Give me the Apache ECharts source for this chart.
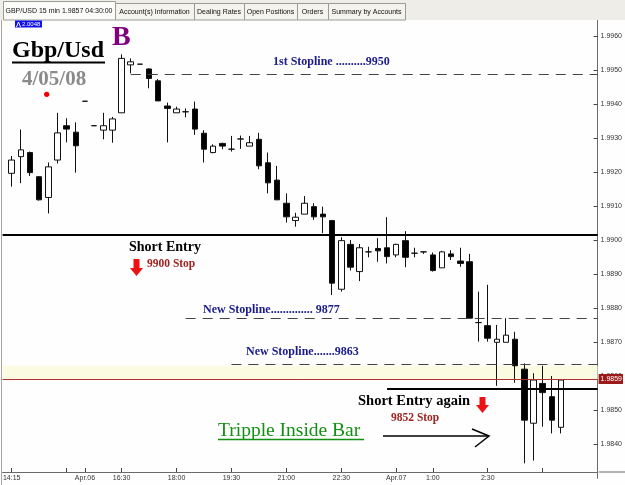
<!DOCTYPE html>
<html><head><meta charset="utf-8">
<script src="https://cdn.jsdelivr.net/npm/echarts@6/dist/echarts.min.js"></script>
<style>html,body{margin:0;padding:0;background:#fff;}#c{width:625px;height:485px;}</style>
</head><body><div id="c"></div>
<script>
// ---- data ----
const categories = ['',
 '14:15','14:30','14:45','15:00','15:15','15:30','15:45','16:00',
 'Apr.06','15:45','16:00','16:15','16:30','16:45','17:00','17:15','17:30','17:45',
 '18:00','18:15','18:30','18:45','19:00','19:15','19:30','19:45','20:00','20:15','20:30','20:45',
 '21:00','21:15','21:30','21:45','22:00','22:15','22:30','22:45','23:00','23:15','23:30','23:45',
 'Apr.07','0:15','0:30','0:45','1:00','1:15','1:30','1:45','2:00','2:15','2:30','2:45',
 '3:00','3:15','3:30','3:45','4:00','4:15','4:30','4:45','5:00','5:15','5:30'];
const opens  = [null,1.99197,1.99246,1.99258,1.99187,1.99126,1.99236,1.99337,1.99318,1.99409,1.99337,1.99324,1.99324,1.99375,1.99516,1.99518,1.99504,1.99469,1.99395,1.99375,1.99378,1.99386,1.99315,1.99258,1.99285,1.99268,1.99298,1.99277,1.99297,1.99228,1.99177,1.99109,1.99058,1.99077,1.99099,1.99077,1.99058,1.98856,1.98988,1.98908,1.98966,1.98976,1.98978,1.98957,1.98999,1.98962,1.98966,1.98957,1.98919,1.98960,1.98939,1.98937,1.98758,1.98749,1.98700,1.98700,1.98709,1.98621,1.98462,1.98579,1.98540,1.98450];
const closes = [null,1.99236,1.99266,1.99199,1.99119,1.99216,1.99316,1.99327,1.99278,1.99409,1.99337,1.99337,1.99357,1.99535,1.99525,1.99518,1.99476,1.99410,1.99388,1.99386,1.99378,1.99327,1.99268,1.99277,1.99277,1.99268,1.99298,1.99287,1.99219,1.99169,1.99119,1.99069,1.99068,1.99109,1.99069,1.99069,1.98874,1.98999,1.98921,1.98978,1.98966,1.98969,1.98952,1.98988,1.98950,1.98962,1.98966,1.98911,1.98966,1.98952,1.98932,1.98771,1.98758,1.98712,1.98709,1.98721,1.98631,1.98471,1.98589,1.98552,1.98471,1.98589];
const lows   = [null,1.99158,1.99168,1.99189,1.99117,1.99079,1.99226,1.99288,1.99199,1.99409,1.99337,1.99297,1.99287,1.99375,1.99491,1.99518,1.99447,1.99410,1.99288,1.99375,1.99362,1.99310,1.99229,1.99256,1.99268,1.99261,1.99269,1.99277,1.99209,1.99138,1.99119,1.99052,1.99040,1.99077,1.99060,1.99021,1.98839,1.98849,1.98911,1.98880,1.98950,1.98937,1.98932,1.98950,1.98921,1.98950,1.98960,1.98908,1.98919,1.98942,1.98922,1.98771,1.98702,1.98702,1.98572,1.98700,1.98581,1.98344,1.98352,1.98452,1.98432,1.98432];
const highs  = [null,1.99248,1.99326,1.99261,1.99189,1.99229,1.99375,1.99359,1.99347,1.99409,1.99337,1.99375,1.99363,1.99547,1.99535,1.99518,1.99506,1.99474,1.99405,1.99393,1.99388,1.99408,1.99324,1.99282,1.99287,1.99307,1.99308,1.99307,1.99316,1.99258,1.99219,1.99138,1.99081,1.99130,1.99109,1.99099,1.99060,1.99009,1.99001,1.98989,1.98981,1.99006,1.99068,1.98990,1.99027,1.98978,1.98966,1.98964,1.98969,1.98971,1.98978,1.98960,1.98849,1.98869,1.98751,1.98771,1.98731,1.98638,1.98609,1.98631,1.98601,1.98591];
const tickIdx  = [1,7,9,13,19,25,31,37,43,47,53,59];
const labelIdx = [1,9,13,19,25,31,37,43,47,53];
const yMin = 1.9830, yMax = 1.9970, yStep = 0.0010;
const shortEntry = 1.99016, shortEntryAgain = 1.98563;
const firstStop = 1.99488, newStop1 = 1.98771, newStop2 = 1.98636;
const lastPrice = 1.98592, bandTop = 1.98631;
const lastPriceLabel = '1.9859';
const firstStopStart = 14, newStop1Start = 20, newStop2Start = 25, againStart = 42;

const ohlc = opens.map((o, i) => o == null ? '-' : [o, closes[i], lows[i], highs[i]]);
const lastIdx = categories.length - 1;

const serif = 'Liberation Serif';
const sans = 'Liberation Sans';
function txt(text, x, y, size, color, bold, extra) {
  return Object.assign({type:'text', z:100, style:{text, x, y, fill:color,
    font:(bold?'bold ':'') + size + 'px "' + serif + '"', verticalAlign:'middle', align:'left'}}, extra||{});
}
function ln(x1,y1,x2,y2,color,w,z){return {type:'line', z:z||100, shape:{x1,y1,x2,y2}, style:{stroke:color, lineWidth:w}};}

const tabs = [
  ['GBP/USD 15 min 1.9857 04:30:00', 3, 115, true],
  ['Account(s) Information', 115, 194],
  ['Dealing Rates', 194, 244],
  ['Open Positions', 244, 297],
  ['Orders', 297, 328],
  ['Summary by Accounts', 328, 405]
];
const tabGraphics = [{type:'rect', z:90, shape:{x:0,y:0,width:625,height:20}, style:{fill:'#eeede8'}}];
tabs.forEach(t => {
  tabGraphics.push({type:'rect', z:91, shape:{x:t[1]+0.5, y:t[3]?1.5:3.5, width:t[2]-t[1], height:t[3]?18.5:16.5}, style:{fill:t[3]?'#fbfbf9':'#f4f3ee', stroke:'#9a9a96', lineWidth:1}});
  tabGraphics.push({type:'text', z:92, style:{text:t[0], x:(t[1]+t[2])/2, y:t[3]?11:12, align:'center', verticalAlign:'middle', fill:'#111', font:'7px "' + sans + '"'}});
});

const dash = {type:[10,7], color:'#444', width:1.2};

const chart = echarts.init(document.getElementById('c'));
chart.setOption({
  animation:false,
  backgroundColor:'#fdfefd',
  grid:{left:0.3, right:26.2, top:2.3, bottom:6.7},
  xAxis:{type:'category', data:categories, boundaryGap:false, offset:-6.3,
    axisLine:{lineStyle:{color:'#6a6a6a', width:1}},
    axisTick:{inside:true, length:4, interval:(i)=>tickIdx.includes(i), lineStyle:{color:'#444'}},
    axisLabel:{interval:(i)=>labelIdx.includes(i), fontSize:7, color:'#333', margin:3, fontFamily:sans},
    splitLine:{show:false}},
  yAxis:{type:'value', position:'right', min:yMin, max:yMax, interval:yStep, scale:true,
    axisLine:{show:true, lineStyle:{color:'#6a6a6a'}},
    axisTick:{show:true, inside:true, length:4, lineStyle:{color:'#444'}},
    axisLabel:{fontSize:7, color:'#333', margin:3, fontFamily:sans, showMinLabel:false, showMaxLabel:false,
      formatter:(v)=>v.toFixed(4)},
    splitLine:{show:false}},
  series:[{
    type:'candlestick', data:ohlc, barWidth:6, silent:true,
    itemStyle:{color:'#ffffff', color0:'#000000', borderColor:'#111', borderColor0:'#111', borderColorDoji:'#111', borderWidth:1},
    markArea:{silent:true, itemStyle:{color:'#fbfbe2'}, data:[[{yAxis:lastPrice},{yAxis:bandTop}]]},
    markLine:{silent:true, symbol:'none', animation:false, label:{show:false},
      data:[
        [{coord:[0, shortEntry]}, {coord:[lastIdx, shortEntry]}],
        [{coord:[againStart, shortEntryAgain]}, {coord:[lastIdx, shortEntryAgain]}],
        [{coord:[firstStopStart, firstStop], lineStyle:dash}, {coord:[lastIdx, firstStop]}],
        [{coord:[newStop1Start, newStop1], lineStyle:dash}, {coord:[lastIdx, newStop1]}],
        [{coord:[newStop2Start, newStop2], lineStyle:dash}, {coord:[lastIdx, newStop2]}],
        [{coord:[0, lastPrice], lineStyle:{color:'#b03030', width:1, type:'solid'},
          label:{show:true, position:'end', formatter:lastPriceLabel, distance:1, color:'#fff', backgroundColor:'#9c1a1a',
            fontSize:7, fontFamily:sans, padding:[2,1,1,2]}},
         {coord:[lastIdx, lastPrice]}]
      ],
      lineStyle:{color:'#000', width:2, type:'solid'}
    }
  }],
  graphic: tabGraphics.concat([
    ln(1.5,20,1.5,485,'#a8a4a0',1),
    ln(598.8,472,625,472,'#6a6a6a',1),
    {type:'rect', z:100, shape:{x:15,y:20.5,width:27,height:7}, style:{fill:'#1010ee'}},
    {type:'polyline', z:101, shape:{points:[[16.5,27],[18.5,22],[20.5,27]]}, style:{stroke:'#fff', lineWidth:1, fill:null}},
    {type:'text', z:101, style:{text:'2.0048', x:22, y:24.3, fill:'#fff', font:'6px "' + sans + '"', verticalAlign:'middle'}},
    txt('Gbp/Usd', 12, 51, 24, '#000', true),
    ln(12,62.5,105,62.5,'#000',2),
    txt('4/05/08', 22, 80, 21, '#8a8a8a', true),
    {type:'circle', z:100, shape:{cx:46.7, cy:94.3, r:2.6}, style:{fill:'#f00000'}},
    txt('B', 112, 38, 28, '#800080', true),
    txt('1st Stopline ..........9950', 273, 61.7, 12, '#1a1a8c', true),
    txt('New Stopline.............. 9877', 203, 310, 12, '#1a1a8c', true),
    txt('New Stopline.......9863', 246, 352.3, 12, '#1a1a8c', true),
    txt('Short Entry', 129, 247.7, 14, '#000', true),
    txt('9900 Stop', 147, 264, 11.5, '#a02424', true),
    {type:'polygon', z:100, shape:{points:[[133.5,259],[139.5,259],[139.5,268],[143,268],[136.5,276],[130,268],[133.5,268]]}, style:{fill:'#ee1111'}},
    txt('Short Entry again', 358, 401.7, 14.5, '#000', true),
    txt('9852 Stop', 391, 418.3, 11.5, '#a02424', true),
    {type:'polygon', z:100, shape:{points:[[479.5,397],[485.5,397],[485.5,405],[489,405],[482.5,413],[476,405],[479.5,405]]}, style:{fill:'#ee1111'}},
    txt('Tripple Inside Bar', 218, 430.5, 19.5, '#139013', false),
    ln(218,439.5,364,439.5,'#139013',1.5),
    ln(383,436,489,436,'#000',1.5),
    {type:'polyline', z:100, shape:{points:[[472,429],[489,436],[475,447]]}, style:{stroke:'#000', lineWidth:1.5, fill:null}}
  ])
});
</script></body></html>
